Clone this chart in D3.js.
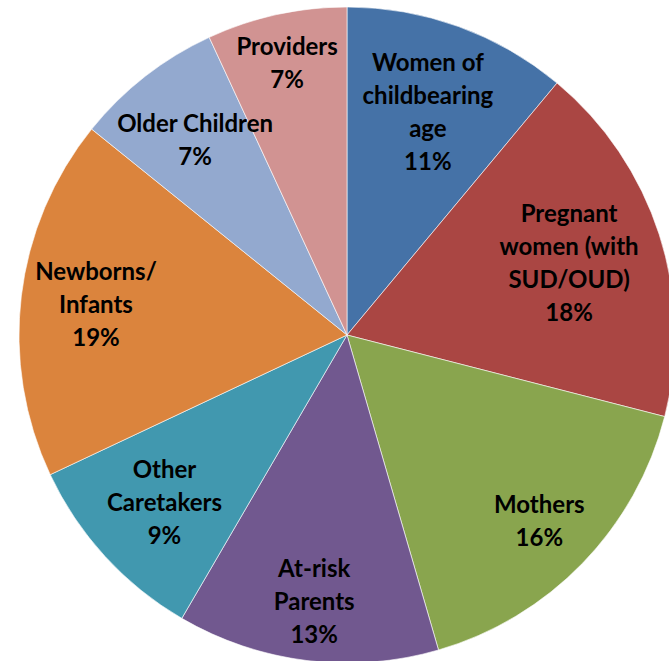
<!DOCTYPE html>
<html>
<head>
<meta charset="utf-8">
<script src="https://cdn.jsdelivr.net/npm/d3@7"></script>
<style>
  html, body { margin: 0; padding: 0; background: #fff; overflow: hidden; }
  svg { display: block; }
  text { font-family: Lato, "Open Sans", sans-serif; font-weight: bold; fill: #000; }
</style>
</head>
<body>
<svg id="chart" width="669" height="661"></svg>
<script>
// ---- data ----
const categories = [
  ["Women of", "childbearing", "age"],
  ["Pregnant", "women (with", "SUD/OUD)"],
  ["Mothers"],
  ["At-risk", "Parents"],
  ["Other", "Caretakers"],
  ["Newborns/", "Infants"],
  ["Older Children"],
  ["Providers"]
];
const values = [11.06, 17.94, 16.5, 12.9, 9.6, 17.8, 7.3, 6.9];
const pctLabels = ["11%", "18%", "16%", "13%", "9%", "19%", "7%", "7%"];
const colors = ["#4572A7", "#AA4643", "#89A54E", "#71588F", "#4198AF", "#DB843D", "#93A9CF", "#D19392"];

// ---- layout ----
const W = 669, H = 661;
const cx = 347, cy = 335, R = 328;
const fontSize = 24, lineH = 33;

const svg = d3.select("#chart");
const g = svg.append("g").attr("transform", `translate(${cx},${cy})`);

const pie = d3.pie().sort(null).value(d => d.v);
const arcs = pie(values.map((v, i) => ({ v, i })));
const arc = d3.arc().innerRadius(0).outerRadius(R);

g.selectAll("path.slice")
  .data(arcs)
  .join("path")
  .attr("class", "slice")
  .attr("d", arc)
  .attr("fill", d => colors[d.data.i])
  .attr("stroke", "#ffffff")
  .attr("stroke-width", 0.6);

// labels: place along mid-angle as far out as the block fits in the circle
const labels = g.selectAll("g.lab")
  .data(arcs)
  .join("g")
  .attr("class", "lab");

labels.each(function (d) {
  const lines = categories[d.data.i].concat([pctLabels[d.data.i]]);
  const sel = d3.select(this);
  const n = lines.length;
  const t = sel.append("text")
    .attr("text-anchor", "middle")
    .style("font-size", fontSize + "px");
  lines.forEach((s, k) => {
    t.append("tspan")
      .attr("x", 0)
      .attr("y", (k - (n - 1) / 2) * lineH + fontSize * 0.35)
      .text(s);
  });
  let w = 0;
  t.selectAll("tspan").each(function () { w = Math.max(w, this.getComputedTextLength()); });
  const h = (n - 1) * lineH + 26;
  const a = (d.startAngle + d.endAngle) / 2;
  const ux = Math.sin(a), uy = -Math.cos(a);
  const limit = R - 7;
  const fits = dist => {
    const px = ux * dist, py = uy * dist;
    for (const sx of [-1, 1]) for (const sy of [-1, 1]) {
      const x = px + sx * w / 2, y = py + sy * h / 2;
      if (Math.hypot(x, y) > limit) return false;
    }
    return true;
  };
  let lo = 0, hi = R;
  for (let k = 0; k < 40; k++) {
    const mid = (lo + hi) / 2;
    if (fits(mid)) lo = mid; else hi = mid;
  }
  sel.attr("transform", `translate(${ux * lo},${uy * lo})`);
});
</script>
</body>
</html>
